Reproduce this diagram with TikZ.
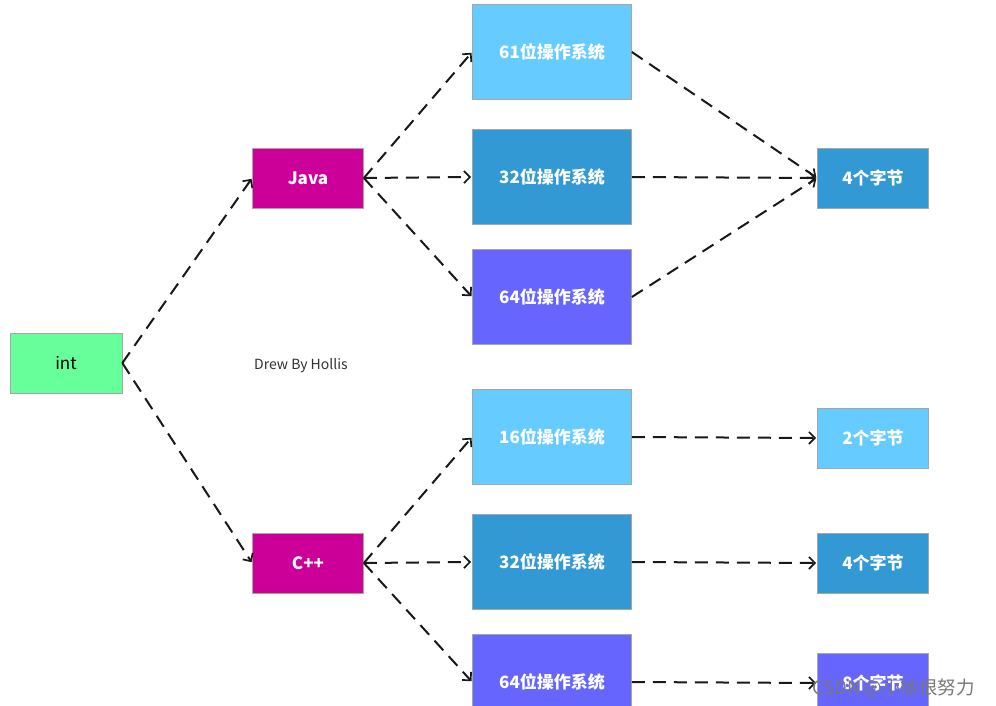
\documentclass[tikz,border=0pt]{standalone}
\usepackage{fontspec}
\setmainfont{Noto Sans CJK SC}
\usetikzlibrary{arrows.meta}
\definecolor{cgreen}{HTML}{66FF99}
\definecolor{cmag}{HTML}{CC0099}
\definecolor{clight}{HTML}{66CCFF}
\definecolor{cmid}{HTML}{3399D4}
\definecolor{cviolet}{HTML}{6666FF}
\tikzset{
  box/.style={draw=gray!70, line width=0.7pt, inner sep=0pt, text=white, font=\fontsize{17}{17}\selectfont\bfseries},
  small/.style={box, minimum width=111pt, minimum height=60pt},
  osbox/.style={box, minimum width=159pt, minimum height=95pt},
  link/.style={draw=black!90, line width=2pt, dash pattern=on 13pt off 8pt, -{Straight Barb[length=6pt,width=12pt,line width=1.7pt]}, shorten >=1pt}
}
\begin{document}
\begin{tikzpicture}[x=1pt,y=-1pt]
\useasboundingbox (0,0) rectangle (996,706);
\fill[white] (0,0) rectangle (996,706);
% level 0
\node[small, fill=cgreen, text=black, minimum width=112pt, font=\fontsize{17}{17}\selectfont] (int) at (66,363) {int};
% level 1
\node[small, fill=cmag] (java) at (308,178) {Java};
\node[small, fill=cmag] (cpp) at (308,563) {C++};
% level 2 top
\node[osbox, fill=clight] (t61) at (552,52) {61位操作系统};
\node[osbox, fill=cmid] (t32) at (552,177) {32位操作系统};
\node[osbox, fill=cviolet] (t64) at (552,297) {64位操作系统};
% level 2 bottom
\node[osbox, fill=clight] (b16) at (552,437) {16位操作系统};
\node[osbox, fill=cmid] (b32) at (552,562) {32位操作系统};
\node[osbox, fill=cviolet] (b64) at (552,682) {64位操作系统};
% level 3
\node[small, fill=cmid] (tb4) at (873,178) {4个字节};
\node[small, fill=clight] (bb2) at (873,438) {2个字节};
\node[small, fill=cmid] (bb4) at (873,563) {4个字节};
\node[small, fill=cviolet] (bb8) at (873,683) {8个字节};
% label
\node[text=black!80, font=\fontsize{14}{14}\selectfont] (drew) at (301,366) {Drew By Hollis};
% connectors
\draw[link] (int.east) -- (java.west);
\draw[link] (int.east) -- (cpp.west);
\draw[link] (java.east) -- (t61.west);
\draw[link] (java.east) -- (t32.west);
\draw[link] (java.east) -- (t64.west);
\draw[link] (t61.east) -- (tb4.west);
\draw[link] (t32.east) -- (tb4.west);
\draw[link] (t64.east) -- (tb4.west);
\draw[link] (cpp.east) -- (b16.west);
\draw[link] (cpp.east) -- (b32.west);
\draw[link] (cpp.east) -- (b64.west);
\draw[link] (b16.east) -- (bb2.west);
\draw[link] (b32.east) -- (bb4.west);
\draw[link] (b64.east) -- (bb8.west);
% watermark
\node[text=gray!95!black, font=\fontsize{18.5}{18.5}\selectfont, anchor=west, inner sep=0pt] (wm) at (812,688) {CSDN @小徐很努力};
\end{tikzpicture}
\end{document}
